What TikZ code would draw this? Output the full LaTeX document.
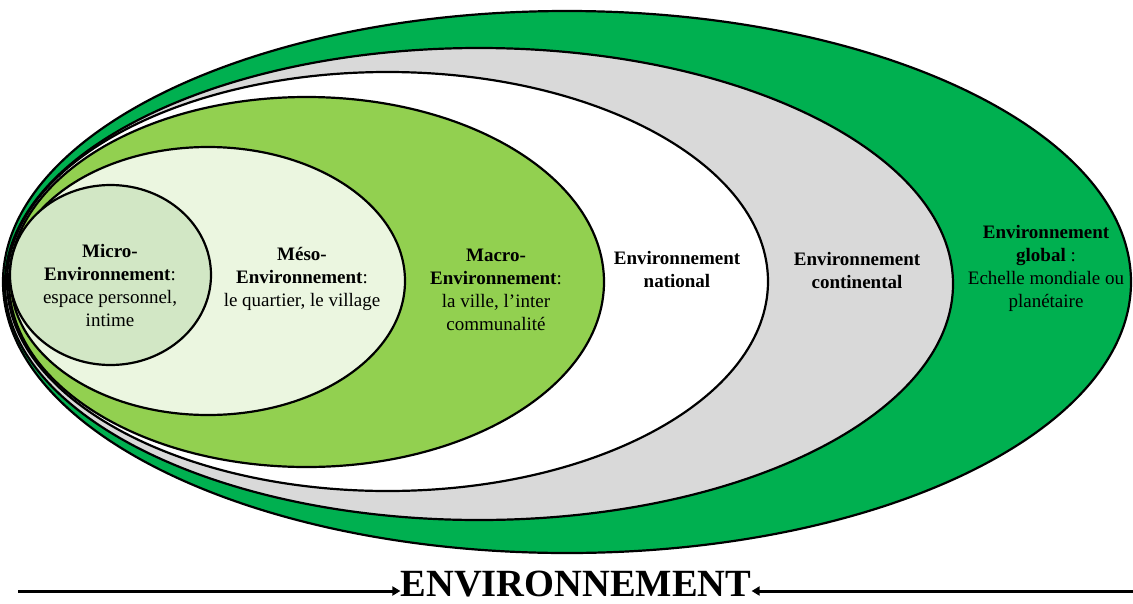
\documentclass[tikz,border=0pt]{standalone}
\usepackage{fontspec}
\setmainfont{Liberation Serif}
\usetikzlibrary{shapes.geometric,arrows.meta}
\definecolor{globalgreen}{HTML}{00B050}
\definecolor{contgray}{HTML}{D9D9D9}
\definecolor{macrolime}{HTML}{92D050}
\definecolor{mesolight}{HTML}{EBF6E0}
\definecolor{microgreen}{HTML}{D2E7C5}
\begin{document}
\begin{tikzpicture}[x=1pt,y=-1pt,
  ring/.style={ellipse, draw=black, line width=2.2pt, inner sep=0pt, outer sep=0pt},
  label/.style={align=center, font=\fontsize{19}{23}\selectfont, text=black, inner sep=0pt},
  flow/.style={line width=3pt, -{Triangle[length=8pt,width=9pt]}}]
\useasboundingbox (0,0) rectangle (1133,603);
% nested ellipses
\node[ring, fill=globalgreen, minimum width=1128pt, minimum height=542pt] (global) at (567,282) {};
\node[ring, fill=contgray, minimum width=948pt, minimum height=472pt] (continental) at (479,284) {};
\node[ring, fill=white, minimum width=761pt, minimum height=419pt] (national) at (387.5,281.5) {};
\node[ring, fill=macrolime, minimum width=595pt, minimum height=370pt] (macro) at (306.5,282) {};
\node[ring, fill=mesolight, minimum width=394pt, minimum height=268pt] (meso) at (208,281) {};
\node[ring, fill=microgreen, minimum width=201pt, minimum height=180pt] (micro) at (110.5,275) {};
% labels
\node[label] (tmicro) at (110,285) {\textbf{Micro-}\\\textbf{Environnement}:\\espace personnel,\\intime};
\node[label] (tmeso) at (302,279) {\textbf{Méso-}\\\textbf{Environnement}:\\le quartier, le village};
\node[label] (tmacro) at (496,290) {\textbf{Macro-}\\\textbf{Environnement}:\\la ville, l’inter\\communalité};
\node[label] (tnational) at (677,269) {\textbf{Environnement}\\\textbf{national}};
\node[label] (tcontinental) at (857,270) {\textbf{Environnement}\\\textbf{continental}};
\node[label] (tglobal) at (1046,268) {\textbf{Environnement}\\\textbf{global} :\\Echelle mondiale ou\\planétaire};
% title with arrows
\node[font=\fontsize{38.5}{38.5}\selectfont\bfseries, inner sep=0pt] (title) at (576,584) {ENVIRONNEMENT};
\coordinate (la) at (18,591);
\coordinate (ra) at (1133,591);
\draw[flow] (la) -- (la -| title.west);
\draw[flow] (ra) -- (ra -| title.east);
\end{tikzpicture}
\end{document}
